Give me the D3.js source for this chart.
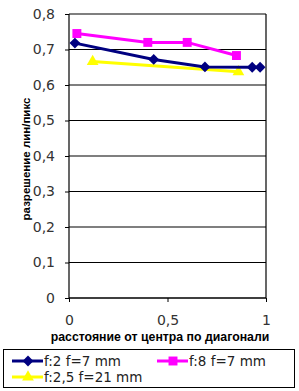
<!DOCTYPE html>
<html>
<head>
<meta charset="utf-8">
<script src="https://cdn.jsdelivr.net/npm/d3@7"></script>
<style>
  body { margin: 0; background: #fff; }
  text { font-family: "DejaVu Sans", Verdana, sans-serif; }
  .title { font-family: "Liberation Sans", Arial, sans-serif; }
</style>
</head>
<body>
<div id="chart"></div>
<script>
// values
const seriesNames = ["f:2 f=7 mm", "f:8 f=7 mm", "f:2,5 f=21 mm"];
const blueX = [0.03, 0.43, 0.69, 0.93, 0.97];
const blueY = [0.718, 0.672, 0.651, 0.650, 0.650];
const pinkX = [0.04, 0.40, 0.60, 0.85];
const pinkY = [0.745, 0.720, 0.720, 0.683];
const yellowX = [0.12, 0.86];
const yellowY = [0.666, 0.637];
const yTicks = [0, 0.1, 0.2, 0.3, 0.4, 0.5, 0.6, 0.7, 0.8];
const xTicks = [0, 0.5, 1];

const width = 299, height = 391;
const m = { top: 14, left: 69, right: 33, bottom: 93 };
const innerW = width - m.left - m.right;
const innerH = height - m.top - m.bottom;
const fmt = d => String(d).replace(".", ",");

const root = d3.select("#chart").append("svg")
    .attr("width", width).attr("height", height);
const plot = root.append("g").attr("transform", `translate(${m.left},${m.top})`);

const x = d3.scaleLinear().domain([0, 1]).range([0, innerW]);
const y = d3.scaleLinear().domain([0, 0.8]).range([innerH, 0]);

// grid lines
plot.append("g").selectAll("line").data(yTicks).join("line")
    .attr("x1", 0).attr("x2", innerW)
    .attr("y1", d => y(d)).attr("y2", d => y(d))
    .attr("stroke", "#000").attr("stroke-width", 1.2);
plot.append("line").attr("x1", innerW).attr("x2", innerW)
    .attr("y1", 0).attr("y2", innerH).attr("stroke", "#000").attr("stroke-width", 1.2);

const yAxis = plot.append("g")
    .call(d3.axisLeft(y).tickValues(yTicks).tickFormat(fmt).tickSize(4).tickPadding(10));
const xAxis = plot.append("g").attr("transform", `translate(0,${innerH})`)
    .call(d3.axisBottom(x).tickValues(xTicks).tickFormat(fmt).tickSize(4).tickPadding(13));
[yAxis, xAxis].forEach(a => {
  a.select(".domain").attr("stroke", "#000").attr("stroke-width", 1.2);
  a.selectAll(".tick line").attr("stroke", "#000");
  a.selectAll("text").attr("font-size", 14).attr("fill", "#333");
});
yAxis.select(".domain").attr("d", `M0,${innerH}V0`);
xAxis.select(".domain").attr("d", `M0,0H${innerW}`);

const series = [
  { name: seriesNames[0], xs: blueX, ys: blueY, color: "#000080", shape: d3.symbolDiamond2, size: 75 },
  { name: seriesNames[1], xs: pinkX, ys: pinkY, color: "#ff00ff", shape: d3.symbolSquare, size: 80 },
  { name: seriesNames[2], xs: yellowX, ys: yellowY, color: "#ffff00", shape: d3.symbolTriangle, size: 60 }
];
const line = d3.line().x(d => x(d[0])).y(d => y(d[1]));

// draw yellow first, then pink, then blue on top
[2, 1, 0].forEach(i => {
  const s = series[i];
  const pts = s.xs.map((v, j) => [v, s.ys[j]]);
  plot.append("path").datum(pts).attr("d", line)
      .attr("fill", "none").attr("stroke", s.color).attr("stroke-width", 3);
  plot.append("g").selectAll("path").data(pts).join("path")
      .attr("transform", d => `translate(${x(d[0])},${y(d[1])})`)
      .attr("d", d3.symbol(s.shape, s.size))
      .attr("fill", s.color);
});

// axis titles
root.append("text").attr("class", "title")
    .attr("transform", `translate(30,159) rotate(-90)`)
    .attr("text-anchor", "middle").attr("font-size", 11.5).attr("font-weight", "bold")
    .text("разрешение лин/пикс");
root.append("text").attr("class", "title")
    .attr("x", 160).attr("y", 341)
    .attr("text-anchor", "middle").attr("font-size", 12.3).attr("font-weight", "bold")
    .text("расстояние от центра по диагонали");

// legend
const lg = root.append("g");
lg.append("rect").attr("x", 3.5).attr("y", 349.5).attr("width", 291).attr("height", 38)
    .attr("fill", "#fff").attr("stroke", "#000");
const legendPos = [[12, 361], [157, 361], [12, 377]];
series.forEach((s, i) => {
  const [lx, ly] = legendPos[i];
  lg.append("line").attr("x1", lx).attr("x2", lx + 31).attr("y1", ly).attr("y2", ly)
      .attr("stroke", s.color).attr("stroke-width", 3);
  lg.append("path").attr("transform", `translate(${lx + 16},${ly})`)
      .attr("d", d3.symbol(s.shape, s.size)).attr("fill", s.color);
  lg.append("text").attr("x", lx + 32).attr("y", ly + 5)
      .attr("font-size", 13.5).attr("fill", "#222").text(s.name);
});
</script>
</body>
</html>
